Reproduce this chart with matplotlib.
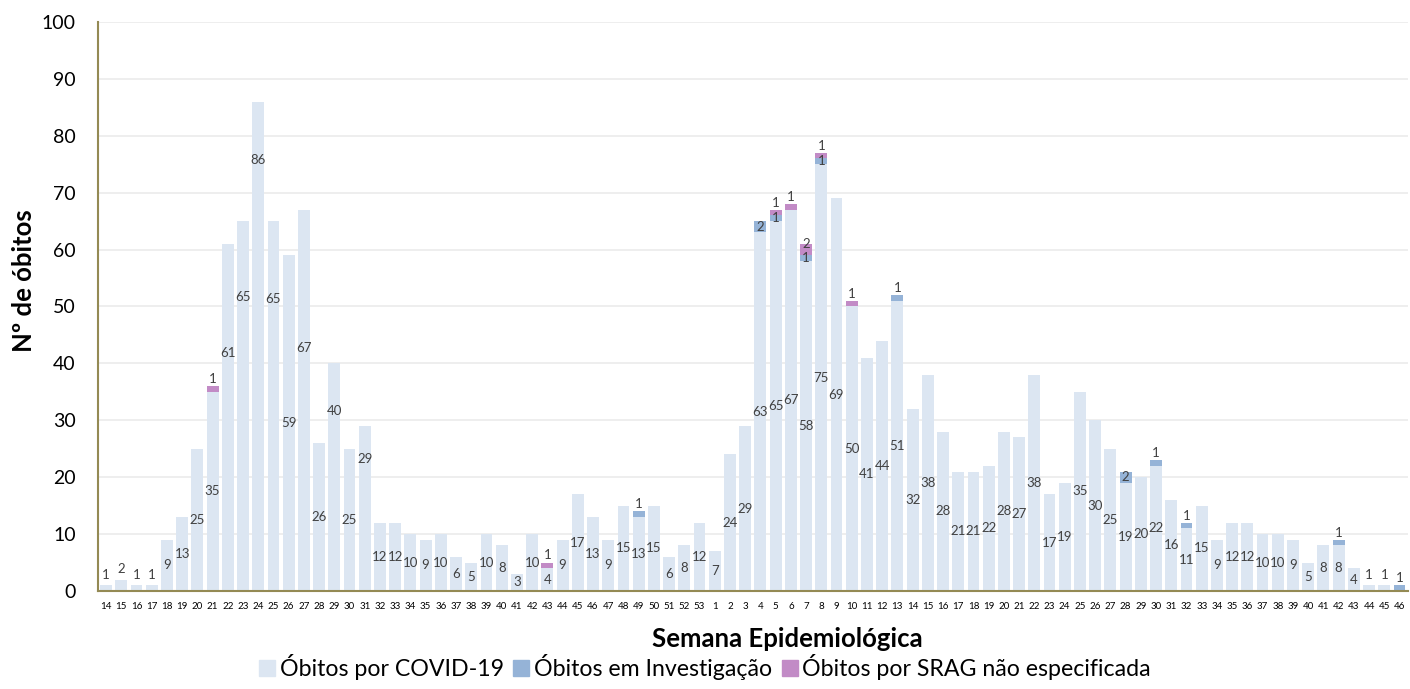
import numpy as np
import matplotlib
matplotlib.use('Agg')
import matplotlib.pyplot as plt
from matplotlib.patches import Patch

plt.rcParams['font.family'] = ['Lato', 'DejaVu Sans']

# Semanas epidemiológicas: 14-53 (2020) e 1-46 (2021)
weeks = list(range(14, 54)) + list(range(1, 47))

covid = [1, 2, 1, 1, 9, 13, 25, 35, 61, 65, 86, 65, 59, 67, 26, 40, 25, 29, 12, 12,
         10, 9, 10, 6, 5, 10, 8, 3, 10, 4, 9, 17, 13, 9, 15, 13, 15, 6, 8, 12,
         7, 24, 29, 63, 65, 67, 58, 75, 69, 50, 41, 44, 51, 32, 38, 28, 21, 21, 22, 28,
         27, 38, 17, 19, 35, 30, 25, 19, 20, 22, 16, 11, 15, 9, 12, 12, 10, 10, 9, 5,
         8, 8, 4, 1, 1, 0]

investigacao = [0] * 86
srag = [0] * 86
# indices: 2020 -> week-14, 2021 -> 39+week
for idx, v in {35: 1, 43: 2, 44: 1, 46: 1, 47: 1, 52: 1, 67: 2, 69: 1, 71: 1, 81: 1, 85: 1}.items():
    investigacao[idx] = v
for idx, v in {7: 1, 29: 1, 44: 1, 45: 1, 46: 2, 47: 1, 49: 1}.items():
    srag[idx] = v

# label height (fraction of bar) for labels moved by hand in the original
label_frac = {8: 0.685, 9: 0.795, 10: 0.88, 11: 0.79, 13: 0.637, 15: 0.79, 17: 0.80}

c_covid = '#DCE6F2'
c_inv = '#95B3D7'
c_srag = '#C28BC6'
txt_col = '#404040'

covid = np.array(covid)
investigacao = np.array(investigacao)
srag = np.array(srag)
x = np.arange(len(weeks))

fig = plt.figure(figsize=(14.1, 6.89), dpi=100)
ax = fig.add_axes([0.0695, 0.1422, 0.929, 0.826])

ax.bar(x, covid, width=0.78, color=c_covid, zorder=2)
ax.bar(x, investigacao, width=0.78, bottom=covid, color=c_inv, zorder=2)
ax.bar(x, srag, width=0.78, bottom=covid + investigacao, color=c_srag, zorder=2)

# data labels
lab = dict(ha='center', fontsize=9.5, color=txt_col, zorder=3)
for i in x:
    v = covid[i]
    if v > 0:
        if v <= 2:
            ax.text(i, v + 0.8, str(v), va='bottom', **lab)
        else:
            ax.text(i, v * label_frac.get(i, 0.5), str(v), va='center', **lab)
    total = covid[i] + investigacao[i] + srag[i]
    base = covid[i]
    for seg in (investigacao[i], srag[i]):
        if seg > 0:
            top = base + seg
            if top == total and seg == 1:
                ax.text(i, top + 0.2, str(seg), va='bottom', **lab)
            elif top == total and base > covid[i]:
                ax.text(i, top, str(seg), va='center', **lab)
            else:
                ax.text(i, base + seg / 2, str(seg), va='center', **lab)
            base = top

ax.set_ylim(0, 100)
ax.set_xlim(-0.53, len(weeks) - 0.45)
ax.set_yticks(range(0, 101, 10))
ax.tick_params(axis='y', labelsize=14, length=0, pad=16)
ax.set_xticks(x)
ax.set_xticklabels([str(w) for w in weeks], fontsize=7)
ax.tick_params(axis='x', length=0, pad=8)
ax.grid(axis='y', color='#EBEBEB', linewidth=1.2, zorder=0)
ax.set_axisbelow(True)

for s in ('top', 'right'):
    ax.spines[s].set_visible(False)
for s in ('left', 'bottom'):
    ax.spines[s].set_color('#948A54')
    ax.spines[s].set_linewidth(1.5)

ax.set_ylabel('Nº de óbitos', fontsize=18.5, fontweight='bold')
ax.yaxis.set_label_coords(-0.047, 0.545)
ax.set_xlabel('Semana Epidemiológica', fontsize=18.5, fontweight='bold')
ax.xaxis.set_label_coords(0.526, -0.064)

handles = [Patch(color=c_covid, label='Óbitos por COVID-19'),
           Patch(color=c_inv, label='Óbitos em Investigação'),
           Patch(color=c_srag, label='Óbitos por SRAG não especificada')]
fig.legend(handles=handles, loc='center', bbox_to_anchor=(0.5, 0.032), ncol=3,
           frameon=False, fontsize=16.7, handlelength=0.7, handleheight=0.7,
           handletextpad=0.2, columnspacing=0.4, borderpad=0)

fig.savefig('out.png', dpi=100)
